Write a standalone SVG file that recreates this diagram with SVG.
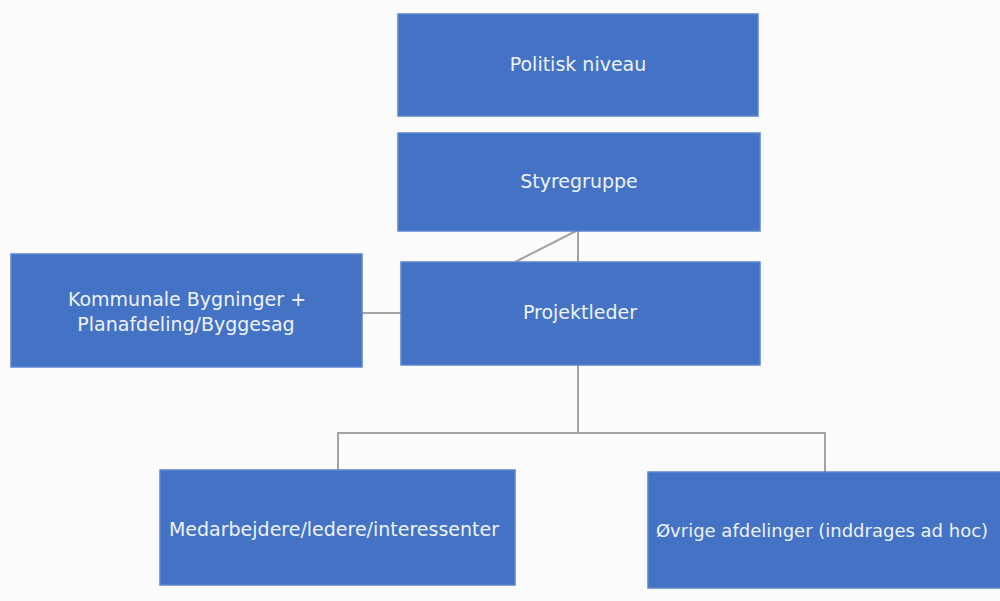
<svg xmlns="http://www.w3.org/2000/svg" width="1000" height="601" viewBox="0 0 1000 601">
<style>
.box{fill:#4472C4;stroke:#5a84cc;stroke-width:1.5}
.lbl{font-family:"DejaVu Sans","Liberation Sans",sans-serif;font-size:19px;fill:#eef3fb;text-anchor:middle}
.sm{font-size:18px}
.con{stroke:#a3a3a3;stroke-width:2;fill:none}
</style>
<rect width="1000" height="601" fill="#fbfbfb"/>
<g id="connectors">
<line class="con" x1="578" y1="231" x2="578" y2="262"/>
<line class="con" x1="576" y1="231" x2="515" y2="262"/>
<line class="con" x1="362" y1="313" x2="401" y2="313"/>
<polyline class="con" points="578,365 578,433"/>
<polyline class="con" points="338,470 338,433 825,433 825,472"/>
</g>
<g id="politisk"><rect class="box" x="398" y="14" width="360" height="102"/><text class="lbl" x="578" y="71">Politisk niveau</text></g>
<g id="styregruppe"><rect class="box" x="398" y="133" width="362" height="98"/><text class="lbl" x="579" y="188">Styregruppe</text></g>
<g id="projektleder"><rect class="box" x="401" y="262" width="359" height="103"/><text class="lbl" x="580" y="319">Projektleder</text></g>
<g id="kommunale"><rect class="box" x="11" y="254" width="351" height="113"/><text class="lbl" x="187" y="306">Kommunale Bygninger +</text><text class="lbl" x="186" y="331">Planafdeling/Byggesag</text></g>
<g id="medarbejdere"><rect class="box" x="160" y="470" width="355" height="115"/><text class="lbl" x="334" y="536">Medarbejdere/ledere/interessenter</text></g>
<g id="ovrige"><rect class="box" x="648" y="472" width="360" height="116"/><text class="lbl sm" x="822" y="537">Øvrige afdelinger (inddrages ad hoc)</text></g>
</svg>
